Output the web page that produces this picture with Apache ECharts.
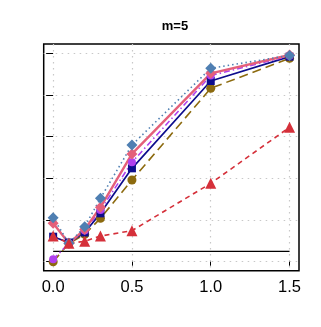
<!DOCTYPE html>
<html><head><meta charset="utf-8">
<script src="https://cdn.jsdelivr.net/npm/echarts@6/dist/echarts.min.js"></script>
<style>html,body{margin:0;padding:0;background:#fff}#c{width:321px;height:327px}</style>
</head><body><div id="c"></div>
<script>
var xs = [0, 0.1, 0.2, 0.3, 0.5, 1.0, 1.5];
var xTicks = [0, 0.5, 1.0, 1.5];
var yTicks = [0, 0.2, 0.4, 0.6, 0.8, 1.0];
var alphaLevel = 0.05;
var titleText = 'm=5';
var sSteel = [0.211, 0.088, 0.168, 0.304, 0.560, 0.928, 0.990];
var sPink  = [0.184, 0.088, 0.155, 0.261, 0.517, 0.904, 0.992];
var sPurple= [0.012, 0.088, 0.150, 0.248, 0.477, 0.893, 0.988];
var sNavy  = [0.120, 0.092, 0.140, 0.232, 0.448, 0.867, 0.984];
var sGold  = [0.000, 0.088, 0.131, 0.208, 0.392, 0.832, 0.976];
var sRed   = [0.123, 0.088, 0.098, 0.123, 0.149, 0.376, 0.645];

function pts(a){ return xs.map(function(x,i){return [x,a[i]];}); }
function ser(name, arr, color, lineType, width, symbol, size){
  return {name:name, type:'line', data:pts(arr), symbol:symbol, symbolSize:size,
    lineStyle:{color:color, type:lineType, width:width},
    itemStyle:{color:color}, animation:false, z:3};
}
var chart = echarts.init(document.getElementById('c'));
chart.setOption({
  animation:false,
  title:{text:titleText, left:170, top:15, textAlign:'center',
    textStyle:{fontSize:13, fontWeight:'bold', color:'#000', fontFamily:'Liberation Sans, Arial, sans-serif'}},
  grid:{left:43.7, right:22, top:44, bottom:56.3, show:true, borderColor:'#000', borderWidth:1.5, backgroundColor:'transparent'},
  xAxis:{type:'value', min:-0.06, max:1.56,
    axisLine:{show:false},
    axisTick:{show:true, length:4, lineStyle:{color:'#000'}, customValues:xTicks, inside:false},
    axisLabel:{customValues:xTicks, formatter:function(v){return v.toFixed(1);}, fontSize:16.5, color:'#000', margin:8, fontFamily:'Liberation Sans, Arial, sans-serif'},
    splitLine:{show:true, lineStyle:{color:'#c8c8c8', type:[1.5,4.5], width:1.2}}
  },
  yAxis:{type:'value', min:-0.0432, max:1.0446,
    axisLine:{show:false},
    axisTick:{show:true, length:7, lineStyle:{color:'#000'}, customValues:yTicks},
    axisLabel:{show:false, customValues:yTicks},
    splitLine:{show:true, lineStyle:{color:'#c8c8c8', type:[1.5,4.5], width:1.2}}
  },
  series:[
    {name:'alpha', type:'line', data:[[0,alphaLevel],[1.5,alphaLevel]], symbol:'none',
      lineStyle:{color:'#000', width:1.3}, z:2, animation:false},
    ser('gold', sGold, '#8c6a0e', [9,5], 1.6, 'circle', 9),
    ser('navy', sNavy, '#0d0d8c', 'solid', 1.7, 'rect', 8),
    ser('purple', sPurple, '#b040ee', [6,3,1.5,3], 1.6, 'circle', 8),
    ser('pink', sPink, '#e4607a', 'solid', 2.4, 'diamond', 11),
    ser('steel', sSteel, '#4f7fb2', [1.5,3], 1.6, 'diamond', 11),
    ser('red', sRed, '#d5303a', [5,4], 1.6, 'triangle', 11)
  ]
});
</script></body></html>
